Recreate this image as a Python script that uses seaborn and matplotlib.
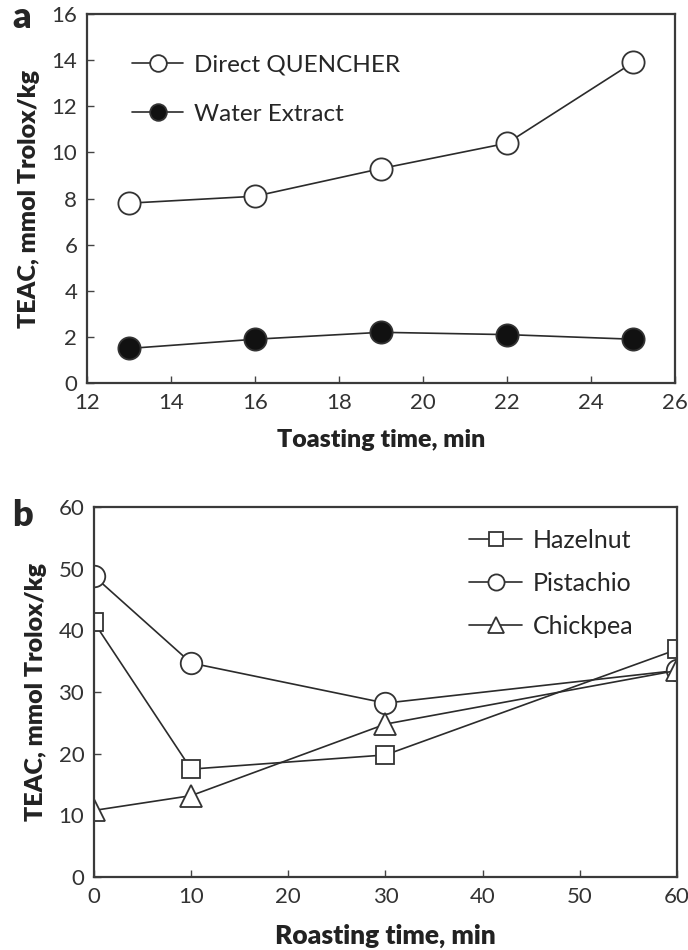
import matplotlib
matplotlib.use("Agg")
import matplotlib.pyplot as plt
import seaborn as sns
import pandas as pd

# Panel a data
toast_time = [13, 16, 19, 22, 25]
direct_quencher = [7.8, 8.1, 9.3, 10.4, 13.9]
water_extract = [1.5, 1.9, 2.2, 2.1, 1.9]

# Panel b data
roast_time = [0, 10, 30, 60]
hazelnut = [41.3, 17.5, 19.8, 36.9]
pistachio = [48.8, 34.7, 28.2, 33.5]
chickpea = [10.8, 13.2, 24.8, 33.5]

a_xticks = [12, 14, 16, 18, 20, 22, 24, 26]
a_yticks = [0, 2, 4, 6, 8, 10, 12, 14, 16]
b_xticks = [0, 10, 20, 30, 40, 50, 60]
b_yticks = [0, 10, 20, 30, 40, 50, 60]

sns.set_theme(style="white")
plt.rcParams['font.family'] = ['Lato', 'DejaVu Sans']

fig = plt.figure(figsize=(6.88, 9.5), dpi=100)
ax1 = fig.add_axes([0.1265, 0.5968, 0.8547, 0.3884])
ax2 = fig.add_axes([0.1366, 0.0768, 0.8474, 0.3895])

dfa = pd.DataFrame({
    "time": toast_time * 2,
    "value": direct_quencher + water_extract,
    "series": ["Direct QUENCHER"] * 5 + ["Water Extract"] * 5,
})
line_kw = dict(color="#2b2b2b", linewidth=1.2)
sns.lineplot(data=dfa[dfa.series == "Direct QUENCHER"], x="time", y="value", ax=ax1,
             marker="o", markersize=16, markerfacecolor="white", markeredgecolor="#333333",
             markeredgewidth=1.3, label="Direct QUENCHER", **line_kw)
sns.lineplot(data=dfa[dfa.series == "Water Extract"], x="time", y="value", ax=ax1,
             marker="o", markersize=16, markerfacecolor="#111111", markeredgecolor="#333333",
             markeredgewidth=1.3, label="Water Extract", **line_kw)

dfb = pd.DataFrame({
    "time": roast_time * 3,
    "value": hazelnut + pistachio + chickpea,
    "series": ["Hazelnut"] * 4 + ["Pistachio"] * 4 + ["Chickpea"] * 4,
})
for name, mk, ms in [("Hazelnut", "s", 13), ("Pistachio", "o", 15.5), ("Chickpea", "^", 16)]:
    sns.lineplot(data=dfb[dfb.series == name], x="time", y="value", ax=ax2,
                 marker=mk, markersize=ms, markerfacecolor="white",
                 markeredgecolor="#333333", markeredgewidth=1.3, label=name, **line_kw)

ax1.set_xlim(12, 26)
ax1.set_ylim(0, 16)
ax1.set_xticks(a_xticks)
ax1.set_yticks(a_yticks)
ax2.set_xlim(0, 60)
ax2.set_ylim(0, 60)
ax2.set_xticks(b_xticks)
ax2.set_yticks(b_yticks)

for ax in (ax1, ax2):
    for s in ax.spines.values():
        s.set_color("#3a3a3a")
        s.set_linewidth(1.6)
    ax.tick_params(direction="in", length=5, width=1, colors="#444444",
                   labelsize=16, labelcolor="#333333", bottom=True, left=True, pad=7)

lab_kw = dict(fontweight="heavy", color="#222222")
ax1.set_xlabel("Toasting time, min", labelpad=12, fontsize=18, **lab_kw)
ax1.set_ylabel("TEAC, mmol Trolox/kg", labelpad=8, fontsize=18, **lab_kw)
ax2.set_xlabel("Roasting time, min", labelpad=12, fontsize=19, **lab_kw)
ax2.set_ylabel("TEAC, mmol Trolox/kg", labelpad=8, fontsize=18, **lab_kw)

ax1.legend(loc="upper left", bbox_to_anchor=(0.06, 0.916), labelspacing=1.15,
           frameon=False, handlelength=2.1, handletextpad=0.45, borderaxespad=0,
           prop={"size": 17.5}, markerscale=0.75)
ax2.legend(loc="upper right", bbox_to_anchor=(0.943, 0.967), labelspacing=0.8,
           frameon=False, handlelength=2.1, handletextpad=0.45, borderaxespad=0,
           prop={"size": 18}, markerscale=0.75)

fig.text(0.018, 1 - 18 / 950, "a", fontsize=26, fontweight="heavy", va="center")
fig.text(0.018, 1 - 515 / 950, "b", fontsize=26, fontweight="heavy", va="center")

fig.savefig("out.png", dpi=100)
